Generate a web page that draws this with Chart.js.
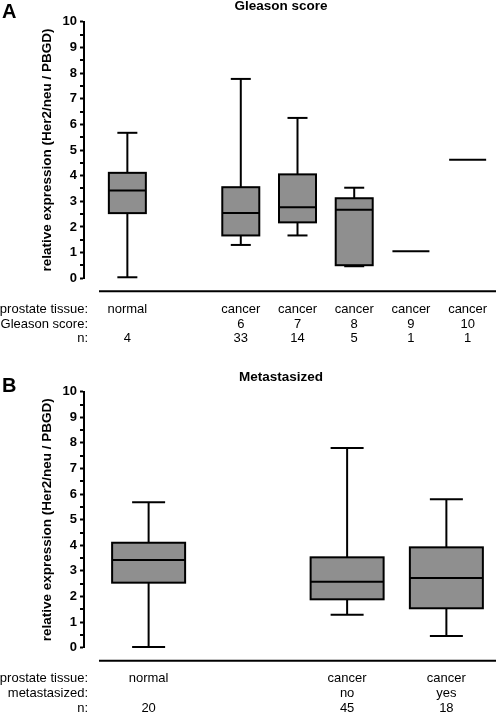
<!DOCTYPE html>
<html>
<head>
<meta charset="utf-8">
<script src="https://cdn.jsdelivr.net/npm/chart.js@4"></script>
<style>
  html, body { margin: 0; padding: 0; background: #fff; }
  #wrap { position: relative; width: 496px; height: 714px; overflow: hidden; }
  .panel { position: absolute; left: 0; width: 496px; }
</style>
</head>
<body>
<div id="wrap">
  <div class="panel" style="top:0;height:370px"><canvas id="cA" width="496" height="370"></canvas></div>
  <div class="panel" style="top:370px;height:344px"><canvas id="cB" width="496" height="344"></canvas></div>
</div>
<script>
// ---------- Panel A data ----------
const aTissue  = ['normal', '', 'cancer', 'cancer', 'cancer', 'cancer', 'cancer'];
const aGleason = ['', '', '6', '7', '8', '9', '10'];
const aN       = [4, 0, 33, 14, 5, 1, 1];
const aMin     = [0.04, null, 1.30, 1.67, 0.47, null, null];
const aQ1      = [2.54, null, 1.67, 2.18, 0.51, null, null];
const aMedian  = [3.42, null, 2.54, 2.77, 2.67, 1.05, 4.62];
const aQ3      = [4.11, null, 3.55, 4.05, 3.12, null, null];
const aMax     = [5.67, null, 7.77, 6.25, 3.53, null, null];

// ---------- Panel B data ----------
const bTissue  = ['normal', '', 'cancer', 'cancer'];
const bMeta    = ['', '', 'no', 'yes'];
const bN       = [20, 0, 45, 18];
const bMin     = [0.03, null, 1.29, 0.46];
const bQ1      = [2.54, null, 1.89, 1.54];
const bMedian  = [3.43, null, 2.58, 2.72];
const bQ3      = [4.10, null, 3.53, 3.92];
const bMax     = [5.68, null, 7.80, 5.80];

const yTicks = [0, 1, 2, 3, 4, 5, 6, 7, 8, 9, 10];

const FONT = "'Liberation Sans', Arial, Helvetica, sans-serif";
const BOX_FILL = '#8f8f8f';

const boxPlugin = {
  id: 'boxes',
  afterDraw(chart, args, o) {
    const {ctx, scales: {x, y}, chartArea} = chart;
    const p = o.panel;
    ctx.save();
    ctx.strokeStyle = '#000';
    ctx.lineWidth = 2;
    ctx.lineCap = 'butt';
    const hl = (x1, x2, yy) => { ctx.beginPath(); ctx.moveTo(x1, yy); ctx.lineTo(x2, yy); ctx.stroke(); };
    const vl = (xx, y1, y2) => { ctx.beginPath(); ctx.moveTo(xx, y1); ctx.lineTo(xx, y2); ctx.stroke(); };

    // minor ticks on y axis
    for (let v = 0.5; v < 10; v += 1) {
      const yy = y.getPixelForValue(v);
      hl(chartArea.left - 4, chartArea.left, Math.round(yy));
    }

    for (let i = 0; i < p.n.length; i++) {
      if (!p.n[i] || p.median[i] == null) continue;
      const cx = x.getPixelForValue(i);
      const hw = p.boxW / 2, cw = p.capW / 2;
      const ym = y.getPixelForValue(p.median[i]);
      if (p.n[i] === 1 || p.q1[i] == null) { hl(cx - hw, cx + hw, ym); continue; }
      const y1 = y.getPixelForValue(p.q1[i]);
      const y3 = y.getPixelForValue(p.q3[i]);
      const yl = y.getPixelForValue(p.min[i]);
      const yh = y.getPixelForValue(p.max[i]);
      vl(cx, y3, yh); hl(cx - cw, cx + cw, yh);
      vl(cx, y1, yl); hl(cx - cw, cx + cw, yl);
      ctx.fillStyle = BOX_FILL;
      ctx.fillRect(cx - hw, y3, 2 * hw, y1 - y3);
      ctx.strokeRect(cx - hw, y3, 2 * hw, y1 - y3);
      hl(cx - hw, cx + hw, ym);
    }

    // baseline under plot
    const bl = chartArea.bottom + 13;
    hl(x.getPixelForValue(-0.5), chartArea.right, bl);

    // title and panel letter
    ctx.fillStyle = '#000';
    ctx.textBaseline = 'middle';
    ctx.textAlign = 'center';
    ctx.font = 'bold 13.5px ' + FONT;
    ctx.fillText(p.title, 281, p.titleY);
    ctx.textAlign = 'left';
    ctx.font = 'bold 20px ' + FONT;
    ctx.fillText(p.letter, 2, p.letterY);

    // rows of category labels
    ctx.font = '13px ' + FONT;
    const rowY = [chartArea.bottom + 31, chartArea.bottom + 46, chartArea.bottom + 60.5];
    p.rowHeads.forEach((h, r) => {
      ctx.textAlign = 'right';
      ctx.fillText(h, 88, rowY[r]);
    });
    ctx.textAlign = 'center';
    for (let i = 0; i < p.n.length; i++) {
      const cx = x.getPixelForValue(i);
      ctx.fillText(p.row1[i], cx, rowY[0]);
      ctx.fillText(p.row2[i], cx, rowY[1]);
      ctx.fillText(p.n[i] ? String(p.n[i]) : '', cx, rowY[2]);
    }
    ctx.restore();
  }
};

function makeChart(id, panel, xmin, xmax, bottomPad) {
  const pts = panel.median.map((m, i) => (m == null ? null : {x: i, y: m})).filter(Boolean);
  return new Chart(document.getElementById(id), {
    type: 'scatter',
    data: { datasets: [{ data: pts, pointRadius: 0, pointHoverRadius: 0, showLine: false }] },
    options: {
      responsive: false,
      animation: false,
      devicePixelRatio: 1,
      layout: { padding: { top: 21.7, bottom: bottomPad, left: 0, right: 0 } },
      plugins: { legend: { display: false }, tooltip: { enabled: false }, boxes: { panel } },
      scales: {
        x: { type: 'linear', display: false, min: xmin, max: xmax },
        y: {
          type: 'linear', min: 0, max: 10,
          afterFit: (s) => { s.width = 84; },
          afterBuildTicks: (s) => { s.ticks = yTicks.map(v => ({ value: v })); },
          border: { display: true, color: '#000', width: 2 },
          grid: { drawOnChartArea: false, drawTicks: true, tickLength: 4, tickColor: '#000', tickWidth: 2, color: '#000' },
          ticks: { color: '#000', padding: 3, font: { family: FONT, size: 13, weight: 'bold' } },
          title: { display: true, text: 'relative expression (Her2/neu / PBGD)', color: '#000',
                   padding: { top: 39, bottom: 0 }, font: { family: FONT, size: 13.5, weight: 'bold' } }
        }
      }
    },
    plugins: [boxPlugin]
  });
}

makeChart('cA', {
  title: 'Gleason score', titleY: 6.5, letter: 'A', letterY: 12,
  rowHeads: ['prostate tissue:', 'Gleason score:', 'n:'],
  row1: aTissue, row2: aGleason, n: aN,
  min: aMin, q1: aQ1, median: aMedian, q3: aQ3, max: aMax,
  boxW: 37, capW: 20
}, -0.7645, 6.5, 370 - 278.3);

makeChart('cB', {
  title: 'Metastasized', titleY: 7, letter: 'B', letterY: 16,
  rowHeads: ['prostate tissue:', 'metastasized:', 'n:'],
  row1: bTissue, row2: bMeta, n: bN,
  min: bMin, q1: bQ1, median: bMedian, q3: bQ3, max: bMax,
  boxW: 73, capW: 33
}, -0.651, 3.5, 344 - 277.7);
</script>
</body>
</html>
